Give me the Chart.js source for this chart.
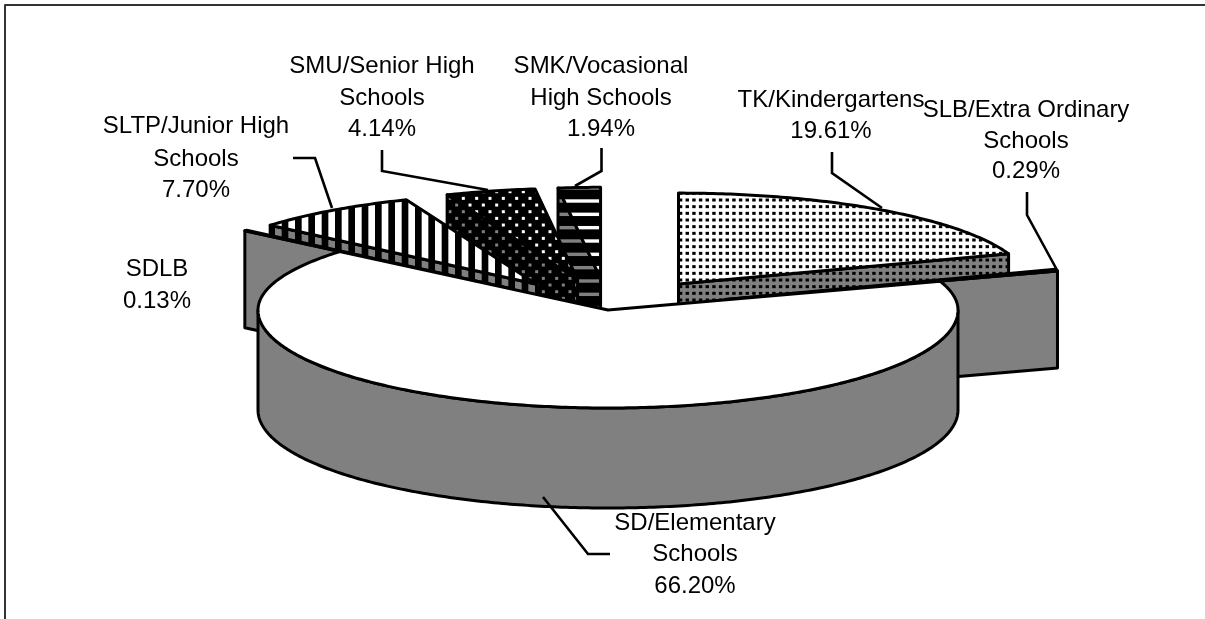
<!DOCTYPE html>
<html><head><meta charset="utf-8">
<style>html,body{margin:0;padding:0;background:#fff}canvas{display:block}</style>
<script src="https://cdn.jsdelivr.net/npm/chart.js@4/dist/chart.umd.min.js"></script>
</head><body><canvas id="c" width="1205" height="619"></canvas>
<script>
// ---- data ----
const categories = ["TK/Kindergartens","SLB/Extra Ordinary Schools","SD/Elementary Schools","SDLB","SLTP/Junior High Schools","SMU/Senior High Schools","SMK/Vocasional High Schools"];
const shares = [19.61,0.29,66.20,0.13,7.70,4.14,1.94];
const explode = [122,124,0,124,122,122,122];
const labelLines = [["TK/Kindergartens"],["SLB/Extra Ordinary","Schools"],["SD/Elementary","Schools"],["SDLB"],["SLTP/Junior High","Schools"],["SMU/Senior High","Schools"],["SMK/Vocasional","High Schools"]];
// ---- annotation layout ----
const labelCenters = [831,1026,695,157,196,382,601];
const labelBaselines = [[107,138],[117,148,178],[530,561,593],[276,308],[133,166,197],[73,105,136],[73,105,136]];
const leaders = [
 [[832,152],[832,173],[882,208]],
 [[1027,192],[1027,215],[1057,270]],
 [[610,554],[588,554],[543,497]],
 null,
 [[293,158],[315,158],[332,208]],
 [[382,150],[382,171],[488,190]],
 [[601.5,148],[601.5,171],[575,186]]
];
const paintOrder = [6,5,4,3,0,1,2];
const RADIUS = 350, K_FRONT = 0.28, K_BACK = 0.26, DEPTH_BACK = 97, DEPTH_FRONT = 100;
const FONT = '24px "Liberation Sans", Arial, sans-serif';
const CELL = 40/3;

function tile(paper, paint){
  const t = document.createElement('canvas'); t.width = t.height = 40;
  const g = t.getContext('2d');
  g.fillStyle = paper; g.fillRect(0,0,40,40);
  paint(g);
  return g.canvas;
}
const pat = (cv) => document.createElement('canvas').getContext('2d').createPattern(cv,'repeat');
function dotsGrid(paper){ return pat(tile(paper,g=>{
  g.fillStyle='#000';
  for(let i=-1;i<7;i++)for(let j=-1;j<7;j++)g.fillRect(i*CELL/2+0.6-1.7,j*CELL/2-1.5,3.4,3);
}));}
function darkDots(dot){ return pat(tile('#000',g=>{
  g.fillStyle=dot;
  for(let i=-1;i<4;i++)for(let j=-1;j<4;j++){
    g.fillRect(i*CELL+10-1.5,j*CELL+11.7-1.5,3,3);
    g.fillRect(i*CELL+10+CELL/2-1.5,j*CELL+11.7+CELL/2-1.5,3,3);
  }
}));}
function vStripes(paper){ return pat(tile(paper,g=>{
  g.fillStyle='#000';
  for(let i=-1;i<4;i++)g.fillRect(i*CELL+1.67,0,CELL/2,40);
}));}
function hBars(paper){ return pat(tile('#000',g=>{
  g.fillStyle=paper;
  for(let i=-1;i<4;i++)g.fillRect(0,i*CELL-0.7,40,3.4);
}));}
const faceFills = [dotsGrid('#fff'),'#fff','#fff','#fff',vStripes('#fff'),darkDots('#fff'),hBars('#fff')];
const wallFills = [dotsGrid('#808080'),'#808080','#808080','#808080',vStripes('#808080'),darkDots('#808080'),hBars('#808080')];

const pie3d = {
  id:'pie3d',
  beforeDatasetsDraw(chart){
    const ctx = chart.ctx;
    const arcs = chart.getDatasetMeta(0).data;
    const cy0 = arcs[0].y;
    const proj = (x,y)=>[x, cy0+(y-cy0)*(y<cy0?K_BACK:K_FRONT)];
    const poly = (pts,fill)=>{
      ctx.beginPath();
      pts.forEach((p,i)=>i?ctx.lineTo(p[0],p[1]):ctx.moveTo(p[0],p[1]));
      ctx.closePath();
      if(fill){ctx.fillStyle=fill;ctx.fill();}
      ctx.stroke();
    };
    ctx.save();
    ctx.strokeStyle='#000';ctx.lineWidth=3;ctx.lineJoin='round';
    const dn=(pts,d)=>pts.map(p=>[p[0],p[1]+d]);
    paintOrder.forEach(i=>{
      const a=arcs[i];
      const s=a.startAngle,e=a.endAngle,r=a.outerRadius,off=explode[i];
      const mid=(s+e)/2;
      const ax=a.x+Math.cos(mid)*off, ay=a.y+Math.sin(mid)*off;
      const apex=proj(ax,ay);
      const rim=(t)=>proj(ax+Math.cos(t)*r,ay+Math.sin(t)*r);
      // cut walls facing the viewer
      if(Math.cos(s)<-1e-6){const q=[apex,rim(s)];poly([q[0],q[1],...dn(q,DEPTH_BACK).reverse()],wallFills[i]);}
      if(Math.cos(e)>1e-6){const q=[apex,rim(e)];poly([q[0],q[1],...dn(q,DEPTH_BACK).reverse()],wallFills[i]);}
      // outer wall on the front half
      const pts=[];
      const n=Math.max(4,Math.ceil((e-s)*80));
      for(let k=0;k<=n;k++)pts.push(s+(e-s)*k/n);
      const front=pts.filter(t=>Math.sin(t)>=0).map(rim);
      if(front.length>1)poly([...front,...dn(front,DEPTH_FRONT).reverse()],wallFills[i]);
      // top face
      poly([apex,...pts.map(rim)],faceFills[i]);
    });
    // frame
    ctx.lineWidth=2;ctx.strokeStyle='#333';
    ctx.beginPath();ctx.moveTo(5,640);ctx.lineTo(5,5);ctx.lineTo(1210,5);ctx.stroke();
    // leaders
    ctx.strokeStyle='#000';ctx.lineWidth=2.6;ctx.lineJoin='miter';
    leaders.forEach(l=>{ if(!l)return;
      ctx.beginPath();l.forEach((p,i)=>i?ctx.lineTo(p[0],p[1]):ctx.moveTo(p[0],p[1]));ctx.stroke();
    });
    // labels
    ctx.fillStyle='#000';ctx.font=FONT;ctx.textAlign='center';ctx.textBaseline='alphabetic';
    categories.forEach((c,i)=>{
      const lines=[...labelLines[i],shares[i].toFixed(2)+'%'];
      lines.forEach((t,j)=>ctx.fillText(t,labelCenters[i],labelBaselines[i][j]));
    });
    ctx.restore();
    return false;
  }
};

new Chart(document.getElementById('c'),{
  type:'pie',
  data:{labels:categories,datasets:[{data:shares,backgroundColor:faceFills,offset:explode,borderWidth:0,hoverOffset:0}]},
  options:{
    responsive:false,animation:false,radius:RADIUS,
    layout:{padding:{left:11,top:1}},
    events:[],
    plugins:{legend:{display:false},tooltip:{enabled:false}}
  },
  plugins:[pie3d]
});
</script></body></html>
